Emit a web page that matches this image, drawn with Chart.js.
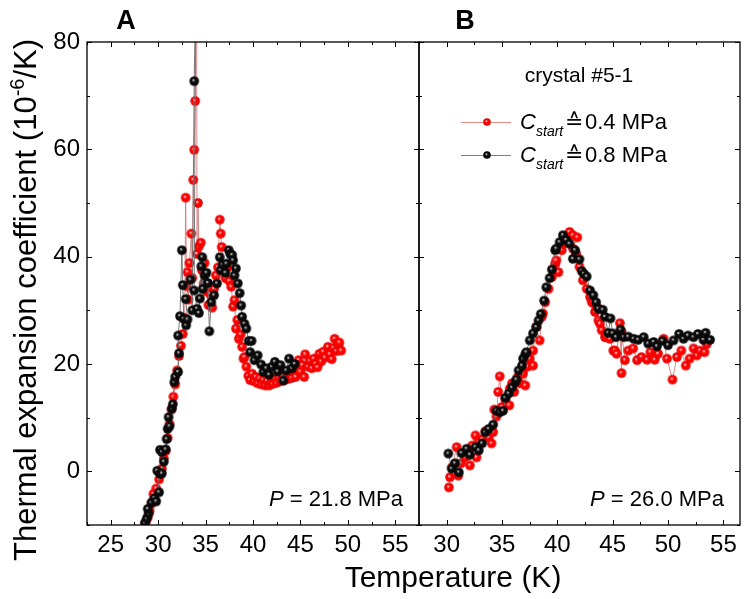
<!DOCTYPE html>
<html>
<head>
<meta charset="utf-8">
<script src="https://cdn.jsdelivr.net/npm/chart.js@4"></script>
<style>
  html, body { margin: 0; padding: 0; background: #fff; overflow: hidden; }
  canvas { display: block; }
</style>
</head>
<body>
<canvas id="chart" width="747" height="599"></canvas>
<script>
// tick labels
var xTicksA = [25, 30, 35, 40, 45, 50, 55];
var xTicksB = [30, 35, 40, 45, 50, 55];
var yTicks = [0, 20, 40, 60, 80];

// panel A (P = 21.8 MPa), red = C_start 0.4 MPa, black = C_start 0.8 MPa
var aRedT = [28.7, 28.9, 29.1, 29.3, 29.5, 29.8, 30.1, 30.4, 30.6, 30.8, 31.0, 31.2, 31.4, 31.6, 31.8, 32.0, 32.2, 32.4, 32.6, 32.8,
    32.9, 33.0, 33.1, 33.2, 33.3, 33.5, 33.6, 33.7, 33.8, 33.9, 34.05, 34.1, 34.2, 34.3, 34.5, 34.6, 34.8, 34.9, 35.1, 35.3,
    35.5, 35.7, 35.9, 36.1, 36.3, 36.5, 36.6, 36.7, 36.9, 37.1, 37.3, 37.5, 37.7, 37.9, 38.05, 38.2, 38.35, 38.5, 38.7, 38.85,
    39.0, 39.1, 39.3, 39.5, 39.7, 39.9, 40.1, 40.3, 40.5, 40.7, 40.9, 41.1, 41.3, 41.5, 41.7, 41.9, 42.1, 42.3, 42.5, 42.7,
    42.9, 43.1, 43.3, 43.5, 43.7, 43.9, 44.1, 44.3, 44.5, 44.7, 44.8, 45.0, 45.2, 45.4, 45.5, 45.8, 46.0, 46.2, 46.4, 46.6,
    46.8, 47.0, 47.2, 47.4, 47.6, 47.9, 48.1, 48.3, 48.5, 48.6, 48.8, 49.0, 49.1, 49.3];
var aRedV = [-9.5, -8.6, -7.4, -6.0, -4.2, -3.2, -1.5, 0.5, 2.4, 3.8, 6.2, 8.8, 11.5, 13.9, 16.2, 18.8, 21.5, 23.4, 25.6, 28.6,
    51.0, 34.5, 37.1, 32.0, 38.8, 44.3, 36.0, 54.3, 59.9, 69.0, 95.0, 40.5, 50.0, 41.9, 42.6, 37.5, 35.0, 38.8, 33.5, 31.0,
    33.0, 30.5, 34.0, 36.5, 38.0, 46.9, 44.3, 41.8, 38.5, 36.0, 38.0, 35.5, 34.4, 30.7, 31.9, 26.6, 28.2, 24.7, 25.5, 23.2,
    21.0, 21.3, 19.5, 17.8, 17.0, 18.2, 16.8, 17.6, 16.4, 17.3, 16.2, 17.0, 16.0, 16.8, 16.0, 16.6, 16.3, 17.2, 16.5, 17.4,
    16.8, 17.8, 17.0, 18.0, 17.2, 18.4, 17.4, 18.6, 17.6, 19.3, 20.7, 18.6, 19.8, 17.6, 21.8, 19.5, 20.6, 19.2, 21.0, 20.0,
    19.4, 21.9, 20.5, 22.3, 21.2, 23.2, 21.8, 20.9, 23.0, 24.7, 22.4, 23.5, 24.0, 22.5];
var aBlkT = [28.6, 28.8, 29.0, 28.9, 29.3, 29.6, 29.8, 30.1, 29.9, 30.2, 30.4, 30.6, 30.2, 30.4, 30.8, 30.9, 31.0, 31.2, 31.1, 31.45,
    31.55, 31.7, 31.8, 32.1, 32.2, 32.1, 32.3, 32.5, 32.6, 32.7, 32.95, 33.1, 32.9, 33.4, 33.6, 33.8, 33.95, 33.8, 34.1, 34.3,
    34.4, 34.55, 34.65, 34.7, 34.9, 35.1, 35.25, 35.4, 35.6, 35.9, 36.2, 36.5, 36.6, 36.8, 37.1, 37.2, 37.45, 37.6, 37.8, 37.9,
    38.05, 38.2, 38.4, 38.6, 38.75, 38.85, 39.1, 39.3, 39.55, 39.85, 39.7, 40.15, 40.5, 40.85, 41.1, 41.4, 41.7, 42.0, 42.3, 42.6,
    42.9, 43.2, 43.5, 43.8, 44.1, 44.4];
var aBlkV = [-9.6, -8.8, -7.9, -7.0, -5.8, -5.0, -5.6, -3.9, 0.1, -0.5, -0.4, 1.8, 4.0, 3.6, 4.1, 6.0, 7.9, 8.4, 10.1, 11.7,
    12.5, 16.6, 17.6, 18.5, 22.0, 25.3, 28.9, 41.2, 34.7, 28.4, 27.2, 28.3, 32.1, 35.7, 30.0, 72.7, 88.0, 33.7, 30.3, 29.5,
    32.2, 38.2, 39.9, 34.0, 36.5, 37.0, 35.1, 26.1, 31.5, 32.8, 35.0, 39.9, 37.5, 38.5, 37.0, 38.7, 41.2, 40.5, 40.3, 39.3,
    36.5, 37.8, 35.0, 33.2, 30.9, 28.8, 27.5, 26.6, 24.3, 24.3, 22.2, 20.7, 21.6, 19.9, 18.5, 19.2, 18.0, 19.5, 20.4, 18.6,
    19.8, 16.9, 18.8, 21.0, 19.2, 20.0];

// panel B (P = 26.0 MPa)
var bRedT = [30.2, 30.3, 30.5, 30.9, 31.05, 31.3, 31.65, 31.9, 32.1, 32.3, 32.6, 32.7, 32.9, 33.2, 33.5, 33.8, 34.05, 34.2, 34.3, 34.5,
    34.65, 34.8, 35.0, 35.3, 35.66, 35.7, 35.9, 36.1, 36.4, 36.6, 36.9, 37.1, 37.3, 37.5, 37.8, 37.8, 38.1, 38.4, 38.6, 38.7,
    38.9, 39.2, 39.5, 39.8, 39.9, 40.1, 40.4, 40.5, 40.8, 41.1, 41.4, 41.8, 41.4, 41.7, 42.0, 42.3, 42.65, 42.95, 43.1, 43.2,
    43.4, 43.55, 43.7, 43.85, 44.0, 44.3, 44.45, 44.75, 45.05, 45.2, 45.35, 45.65, 45.8, 45.8, 46.1, 46.4, 46.85, 47.2, 47.6, 48.1,
    48.4, 48.8, 49.1, 49.6, 49.9, 50.4, 50.8, 51.2, 51.6, 51.95, 52.3, 52.6, 52.9, 53.3, 53.5];
var bRedV = [-3.0, -1.1, 0.8, 4.5, -0.8, 1.5, 2.6, 3.8, 1.1, 4.8, 6.7, 2.6, 5.5, 6.0, 7.5, 6.3, 5.2, 7.3, 11.5, 10.2,
    14.8, 17.7, 12.0, 13.4, 12.3, 15.4, 16.4, 14.8, 17.5, 16.4, 18.2, 16.0, 19.5, 21.0, 19.7, 22.5, 26.9, 24.4, 28.8, 29.4,
    31.5, 34.0, 36.2, 38.7, 39.3, 37.1, 41.2, 42.4, 43.8, 44.6, 44.0, 43.6, 41.5, 40.6, 38.1, 35.6, 34.0, 32.5, 31.6, 31.4,
    29.7, 30.6, 28.1, 27.5, 26.3, 25.0, 25.0, 24.7, 22.5, 22.5, 21.9, 27.6, 18.3, 26.0, 20.7, 22.5, 22.9, 20.7, 21.3, 20.8,
    22.2, 20.8, 21.9, 24.7, 21.0, 17.1, 21.3, 22.5, 19.7, 21.0, 22.9, 21.6, 22.5, 22.2, 23.7];
var bBlkT = [30.15, 30.45, 30.75, 31.1, 31.35, 31.8, 32.1, 32.6, 32.9, 33.2, 33.5, 33.8, 34.2, 34.5, 34.8, 35.1, 35.3, 35.6, 35.9, 36.2,
    36.3, 36.5, 36.8, 36.9, 37.1, 37.2, 37.5, 37.8, 38.1, 38.3, 38.5, 38.8, 39.0, 39.3, 39.5, 39.8, 39.9, 40.2, 40.5, 40.8,
    41.1, 41.4, 41.6, 42.0, 42.2, 42.4, 42.65, 42.95, 43.25, 43.5, 43.7, 44.1, 44.3, 44.6, 44.8, 45.0, 45.3, 45.7, 46.0, 46.4,
    46.9, 47.3, 47.8, 48.2, 48.7, 49.0, 49.5, 50.0, 50.5, 51.0, 51.4, 51.8, 52.3, 52.7, 53.2, 53.4, 53.8];
var bBlkV = [3.3, 0.5, 1.5, -0.2, 3.4, 4.2, 3.1, 4.5, 3.9, 5.2, 7.3, 7.9, 8.7, 11.3, 11.0, 11.3, 13.7, 14.5, 15.6, 16.6,
    17.1, 18.8, 19.7, 21.0, 21.8, 22.2, 24.4, 25.7, 26.9, 28.1, 29.3, 31.8, 34.3, 36.0, 37.6, 41.2, 41.5, 42.7, 44.0, 43.1,
    42.4, 39.6, 41.2, 39.5, 37.3, 36.8, 36.3, 33.7, 32.8, 31.5, 30.3, 30.1, 28.8, 25.8, 28.5, 25.7, 25.0, 26.4, 25.0, 25.1,
    24.7, 24.5, 25.0, 23.8, 24.1, 23.3, 24.3, 23.5, 24.4, 25.6, 24.7, 25.3, 25.0, 25.6, 24.5, 25.8, 24.5];

var yMin = -10, yMax = 80;
var FONT = "'Liberation Sans', Arial, sans-serif";

function toPoints(ts, vs) {
    return ts.map(function (t, i) { return { x: t, y: vs[i] }; });
}

function ball(base, dark, light, r) {
    var s = Math.ceil(2 * r + 2);
    var c = document.createElement('canvas');
    c.width = s; c.height = s;
    var g = c.getContext('2d');
    var m = s / 2;
    var grd = g.createRadialGradient(m - r * 0.2, m - r * 0.25, r * 0.05, m, m, r);
    grd.addColorStop(0, light);
    grd.addColorStop(0.35, base);
    grd.addColorStop(0.85, base);
    grd.addColorStop(1, dark);
    g.fillStyle = grd;
    g.beginPath();
    g.arc(m, m, r, 0, Math.PI * 2);
    g.fill();
    return c;
}

var redBall = ball('#ff0000', '#b80000', '#ffe0e0', 4.8);
var blkBall = ball('#0a0a0a', '#000000', '#d0d0d0', 4.8);
var redBallSmall = ball('#ff0000', '#b80000', '#ffe0e0', 3.8);
var blkBallSmall = ball('#0a0a0a', '#000000', '#d0d0d0', 3.8);

var redLine = 'rgba(215,120,120,0.85)';
var blkLine = 'rgba(110,110,110,0.9)';

function series(ts, vs, axis, isRed) {
    return {
        label: isRed ? 'red' : 'black',
        data: toPoints(ts, vs),
        xAxisID: axis,
        yAxisID: 'y',
        showLine: true,
        borderColor: isRed ? redLine : blkLine,
        borderWidth: 1,
        pointStyle: isRed ? redBall : blkBall,
        pointRadius: 4.8,
        order: isRed ? 1 : 0
    };
}

// box round each panel with inward ticks on all four sides
function drawPanel(ctx, xs, y, top, bottom) {
    var left = xs.left, right = xs.right;
    ctx.beginPath();
    var v, p, len;
    for (v = Math.ceil(xs.min / 2.5) * 2.5; v <= xs.max + 1e-9; v += 2.5) {
        p = Math.round(xs.getPixelForValue(v)) + 0.5;
        len = Math.abs(v % 5) < 1e-6 ? 5 : 3;
        ctx.moveTo(p, bottom); ctx.lineTo(p, bottom - len);
        ctx.moveTo(p, top); ctx.lineTo(p, top + len);
    }
    for (v = yMin; v <= yMax; v += 10) {
        p = Math.round(y.getPixelForValue(v)) + 0.5;
        len = v % 20 === 0 ? 5 : 3;
        ctx.moveTo(left, p); ctx.lineTo(left + len, p);
        ctx.moveTo(right, p); ctx.lineTo(right - len, p);
    }
    ctx.lineWidth = 1;
    ctx.stroke();
    ctx.lineWidth = 1.3;
    ctx.strokeRect(left, top, right - left, bottom - top);
}

function pressureText(ctx, right, value) {
    ctx.textAlign = 'left';
    ctx.textBaseline = 'alphabetic';
    var rest = ' = ' + value + ' MPa';
    ctx.font = '22px ' + FONT;
    var wRest = ctx.measureText(rest).width;
    ctx.font = 'italic 22px ' + FONT;
    var wP = ctx.measureText('P').width;
    var x0 = right - 16 - wRest - wP;
    ctx.fillText('P', x0, 506);
    ctx.font = '22px ' + FONT;
    ctx.fillText(rest, x0 + wP, 506);
}

var decor = {
    id: 'decor',
    afterDraw: function (chart) {
        var ctx = chart.ctx, a = chart.chartArea;
        var xA = chart.scales.xA, xB = chart.scales.xB, y = chart.scales.y;
        ctx.save();
        ctx.strokeStyle = '#000';
        ctx.fillStyle = '#000';
        drawPanel(ctx, xA, y, a.top, a.bottom);
        drawPanel(ctx, xB, y, a.top, a.bottom);

        ctx.font = 'bold 27px ' + FONT;
        ctx.textAlign = 'center';
        ctx.fillText('A', 126, 29);
        ctx.fillText('B', 465, 29);
        pressureText(ctx, xA.right, '21.8');
        pressureText(ctx, xB.right, '26.0');

        ctx.font = '21px ' + FONT;
        ctx.textAlign = 'center';
        ctx.fillText('crystal #5-1', 579, 82);

        var rows = [
            { y: 122, line: redLine, img: redBallSmall, val: '0.4 MPa' },
            { y: 155, line: blkLine, img: blkBallSmall, val: '0.8 MPa' }
        ];
        rows.forEach(function (r) {
            ctx.strokeStyle = r.line;
            ctx.lineWidth = 1;
            ctx.beginPath();
            ctx.moveTo(461, r.y + 0.5);
            ctx.lineTo(511, r.y + 0.5);
            ctx.stroke();
            ctx.drawImage(r.img, 487 - r.img.width / 2, r.y - r.img.height / 2);
            ctx.textAlign = 'left';
            ctx.font = 'italic 22px ' + FONT;
            ctx.fillText('C', 520, r.y + 7);
            ctx.font = 'italic 14px ' + FONT;
            ctx.fillText('start', 536, r.y + 14);
            ctx.font = '22px "DejaVu Sans"';
            ctx.fillText('\u2259', 565, r.y + 7);
            ctx.font = '22px ' + FONT;
            ctx.fillText(r.val, 585, r.y + 7);
        });

        // x title shared by both panels
        ctx.font = '30px ' + FONT;
        ctx.textAlign = 'center';
        ctx.fillText('Temperature (K)', 453, 587);

        // y title with superscript
        var p1 = 'Thermal expansion coefficient (10', sup = '-6', p2 = '/K)';
        ctx.font = '31px ' + FONT;
        var w1 = ctx.measureText(p1).width, w3 = ctx.measureText(p2).width;
        ctx.font = '20px ' + FONT;
        var w2 = ctx.measureText(sup).width;
        var total = w1 + w2 + w3;
        ctx.translate(36, 300);
        ctx.rotate(-Math.PI / 2);
        ctx.textAlign = 'left';
        var sx = -total / 2;
        ctx.font = '31px ' + FONT;
        ctx.fillText(p1, sx, 0);
        ctx.font = '20px ' + FONT;
        ctx.fillText(sup, sx + w1, -12);
        ctx.font = '31px ' + FONT;
        ctx.fillText(p2, sx + w1 + w2, 0);
        ctx.restore();
    }
};

function xAxis(min, max, labels, weight) {
    return {
        type: 'linear',
        axis: 'x',
        position: 'bottom',
        stack: 'temp',
        stackWeight: weight,
        min: min,
        max: max,
        grid: { display: false, drawTicks: false },
        border: { display: false },
        afterBuildTicks: function (scale) {
            scale.ticks = labels.map(function (v) { return { value: v }; });
        },
        ticks: {
            autoSkip: false,
            maxRotation: 0,
            padding: 6,
            color: '#000',
            font: { family: FONT, size: 24 },
            callback: function (v) { return String(v); }
        },
        afterFit: function (scale) {
            scale.height = 599 - 525;
            scale.paddingLeft = 0;
            scale.paddingRight = 0;
        }
    };
}

var chart = new Chart(document.getElementById('chart'), {
    type: 'scatter',
    data: {
        datasets: [
            series(aRedT, aRedV, 'xA', true),
            series(aBlkT, aBlkV, 'xA', false),
            series(bRedT, bRedV, 'xB', true),
            series(bBlkT, bBlkV, 'xB', false)
        ]
    },
    options: {
        responsive: false,
        animation: false,
        layout: { autoPadding: false, padding: { top: 42, right: 7, left: 0, bottom: 0 } },
        plugins: { legend: { display: false }, tooltip: { enabled: false } },
        scales: {
            xA: xAxis(22.5, 57.5, xTicksA, 332),
            xB: xAxis(27.5, 56.5, xTicksB, 321),
            y: {
                type: 'linear',
                position: 'left',
                min: yMin,
                max: yMax,
                grid: { display: false, drawTicks: false },
                border: { display: false },
                afterBuildTicks: function (scale) {
                    scale.ticks = yTicks.map(function (v) { return { value: v }; });
                },
                ticks: {
                    padding: 7,
                    color: '#000',
                    font: { family: FONT, size: 24 },
                    callback: function (v) { return String(v); }
                },
                afterFit: function (scale) { scale.width = 87; }
            }
        }
    },
    plugins: [decor]
});
</script>
</body>
</html>
